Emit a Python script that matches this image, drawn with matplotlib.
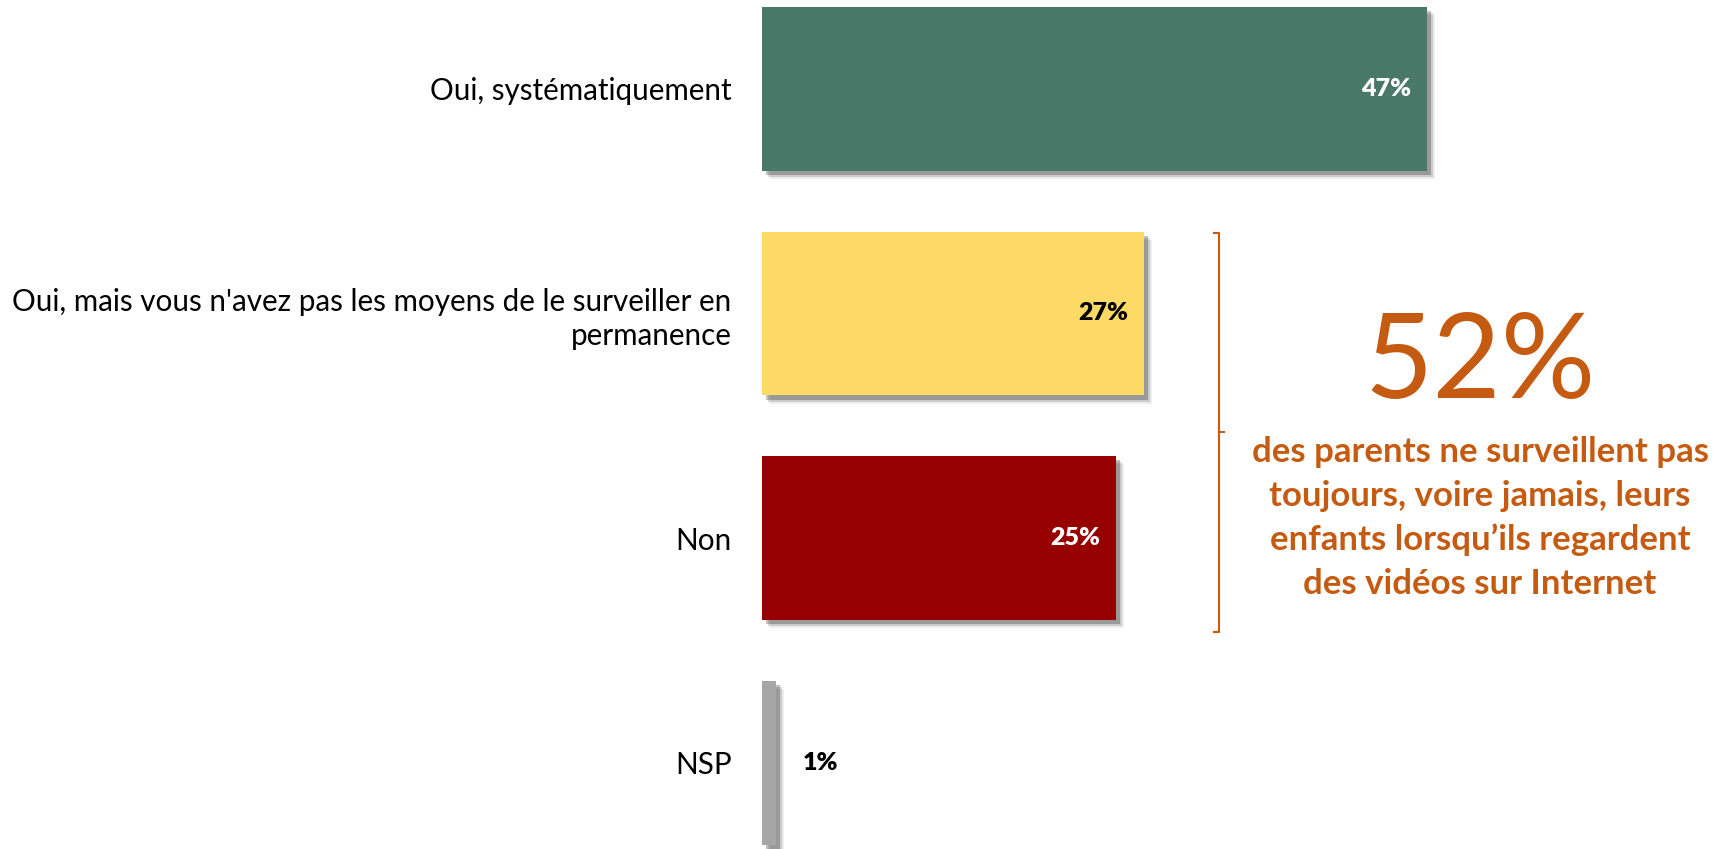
import matplotlib.pyplot as plt
import matplotlib.patheffects as pe

categories = [
    "Oui, systématiquement",
    "Oui, mais vous n'avez pas les moyens de le surveiller en\npermanence",
    "Non",
    "NSP",
]
values = [47, 27, 25, 1]
value_labels = ["47%", "27%", "25%", "1%"]
bar_colors = ["#497868", "#FDD966", "#960000", "#A6A6A6"]
label_colors = ["white", "black", "white", "black"]

highlight_value = "52%"
highlight_text = ("des parents ne surveillent pas\n"
                  "toujours, voire jamais, leurs\n"
                  "enfants lorsqu\u2019ils regardent\n"
                  "des vidéos sur Internet")
orange = "#C55A11"

plt.rcParams['font.family'] = ['Lato', 'DejaVu Sans']

fig = plt.figure(figsize=(17.25, 8.49), dpi=100)
ax = fig.add_axes([762 / 1725, 0, 1 - 762 / 1725, 1])

ypos = list(range(len(categories)))
# soft drop shadow, offset to the lower right
shadow = [
    pe.SimplePatchShadow(offset=(6, -6), shadow_rgbFace='#000000', alpha=0.07),
    pe.SimplePatchShadow(offset=(4.5, -4.5), shadow_rgbFace='#000000', alpha=0.14),
    pe.SimplePatchShadow(offset=(3, -3), shadow_rgbFace='#000000', alpha=0.24),
    pe.Normal(),
]
bars = ax.barh(ypos, values, height=0.73, color=bar_colors, zorder=2)
for b in bars:
    b.set_path_effects(shadow)

ax.set_xlim(0, 68.06)
ax.set_ylim(3.385, -0.396)
ax.set_yticks(ypos)
ax.set_yticklabels(categories, fontsize=21.3, linespacing=1.25)
ax.tick_params(axis='y', length=0, pad=22)
ax.tick_params(axis='x', bottom=False, labelbottom=False)
for s in ax.spines.values():
    s.set_visible(False)

for y, v, lab, c in zip(ypos, values, value_labels, label_colors):
    if v > 5:
        ax.annotate(lab, (v, y), xytext=(-11.5, 0), textcoords='offset points',
                    ha='right', va='center', fontsize=18, fontweight='heavy', color=c)
    else:
        ax.annotate(lab, (v, y), xytext=(19, 0), textcoords='offset points',
                    ha='left', va='center', fontsize=18, fontweight='heavy', color=c)

# bracket grouping "Oui, mais..." and "Non"
bx = 1219 / 1725
y_top = 1 - 233 / 849
y_bot = 1 - 632 / 849
y_mid = 1 - 432 / 849
hook = 5 / 1725
fig.add_artist(plt.Line2D([bx - hook, bx, bx, bx - hook], [y_top, y_top, y_bot, y_bot],
                          color=orange, lw=1.5, transform=fig.transFigure))
fig.add_artist(plt.Line2D([bx, bx + hook], [y_mid, y_mid],
                          color=orange, lw=1.5, transform=fig.transFigure))

fig.text(1480 / 1725, 1 - 398 / 849, highlight_value, ha='center', va='baseline',
         fontsize=85, color=orange)
fig.text(1480 / 1725, 1 - 518 / 849, highlight_text, ha='center', va='center',
         fontsize=25, fontweight='bold', color=orange, linespacing=1.45)

fig.savefig('out.png', dpi=100)
